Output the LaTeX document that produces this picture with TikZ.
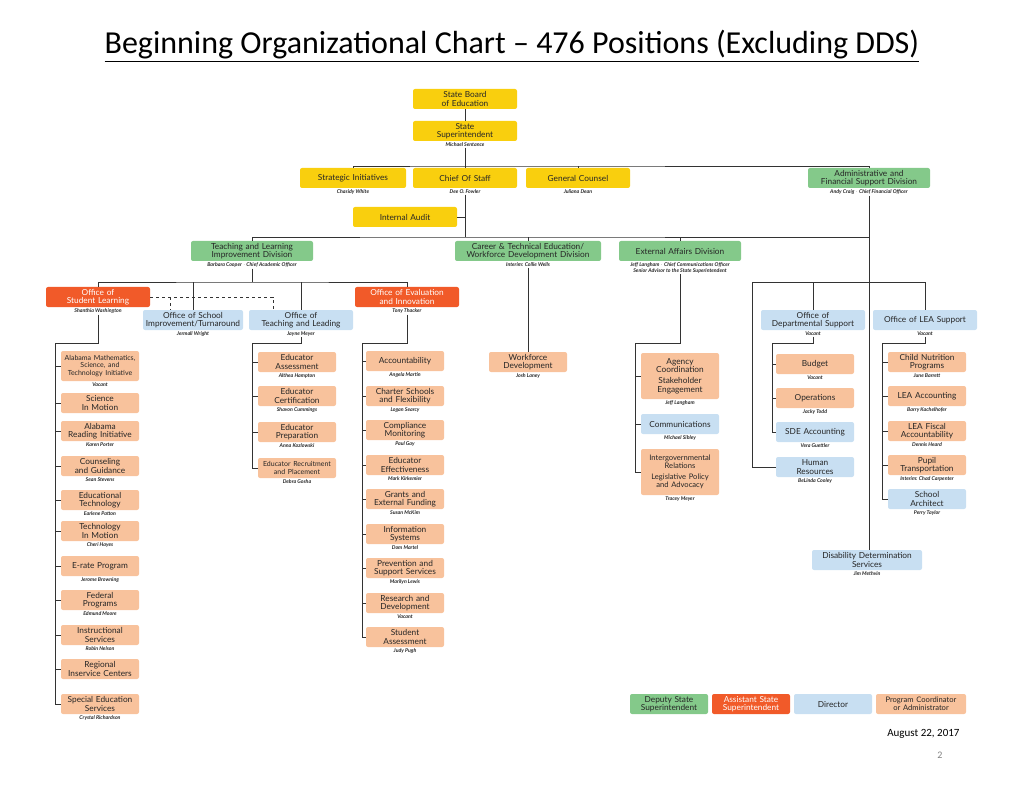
\documentclass[tikz,border=0pt]{standalone}
\usepackage{fontspec}
\setmainfont{Lato}
\newfontfamily\titlefont{Carlito}
\definecolor{cyel}{HTML}{F9CF0E}
\definecolor{cgrn}{HTML}{84C98A}
\definecolor{cred}{HTML}{F15A29}
\definecolor{cblu}{HTML}{C8DFF2}
\definecolor{cpch}{HTML}{F8C29C}
\definecolor{cline}{HTML}{333333}
\tikzset{
 box/.style={rounded corners=2pt,inner sep=0.5pt,align=center,font=\fontsize{8.3}{8.2}\selectfont,text=black!85},
 wbox/.style={box,text=white},
 pers/.style={font=\fontsize{5.2}{5.8}\selectfont\bfseries\itshape,inner sep=0.6pt,anchor=north,align=center,text=black!85},
 ln/.style={draw=cline,line width=0.8pt},
}
\newcommand\ob[9]{%
 \node[#6,minimum width=#4pt,minimum height=#5pt,text width=#4pt-1pt] (#1) at (#2,#3) {#8};
 \node[pers] (#1p) at ([yshift=-1pt]#1.south) {#9};}
\begin{document}
\begin{tikzpicture}[x=1pt,y=-1pt]
\useasboundingbox (0,0) rectangle (1024,791);
\node[font=\titlefont\fontsize{32}{32}\selectfont] (title) at (512,46) {\underline{Beginning Organizational Chart \textendash{} 476 Positions (Excluding DDS)}};
% top
\ob{sb}{465}{99}{104}{20}{box,fill=cyel}{}{State Board\\of Education}{}
\ob{ss}{465}{131}{104}{20}{box,fill=cyel}{}{State\\Superintendent}{Michael Sentance}
\ob{si}{353}{178}{106}{20}{box,fill=cyel}{}{Strategic Initiatives}{Chasidy White}
\ob{cs}{465}{178}{104}{20}{box,fill=cyel}{}{Chief Of Staff}{Dee O. Fowler}
\ob{gc}{578}{178}{104}{20}{box,fill=cyel}{}{General Counsel}{Juliana Dean}
\ob{ad}{869}{178}{122}{20}{box,fill=cgrn}{}{Administrative and\\Financial Support Division}{Andy Craig $\cdot$ Chief Financial Officer}
\ob{ia}{405}{217}{104}{20}{box,fill=cyel}{}{Internal Audit}{}
% divisions
\ob{tl}{252}{251}{122}{20}{box,fill=cgrn}{}{Teaching and Learning\\Improvement Division}{Barbara Cooper $\cdot$ Chief Academic Officer}
\ob{cte}{528}{251}{146}{20}{box,fill=cgrn}{}{Career \& Technical Education/\\Workforce Development Division}{Interim: Collie Wells}
\ob{ea}{680}{251}{122}{20}{box,fill=cgrn}{}{External Affairs Division}{Jeff Langham $\cdot$ Chief Communications Officer\\Senior Advisor to the State Superintendent}
% offices
\ob{sl}{98}{297}{104}{20}{wbox,fill=cred}{}{Office of\\Student Learning}{Shanthia Washington}
\ob{osi}{193}{320}{100}{20}{box,fill=cblu}{}{Office of School\\Improvement/Turnaround}{Jermall Wright}
\ob{otl}{301}{320}{104}{20}{box,fill=cblu}{}{Office of\\Teaching and Leading}{Jayne Meyer}
\ob{oei}{407}{297}{104}{20}{wbox,fill=cred}{}{Office of Evaluation\\and Innovation}{Tony Thacker}
\ob{wd}{528}{362}{78}{20}{box,fill=cpch}{}{Workforce\\Development}{Josh Laney}
\ob{ods}{813}{320}{104}{20}{box,fill=cblu}{}{Office of\\Departmental Support}{Vacant}
\ob{ols}{925}{320}{104}{20}{box,fill=cblu}{}{Office of LEA Support}{Vacant}
\ob{dds}{867}{560}{110}{20}{box,fill=cblu}{}{Disability Determination\\Services}{Jim Methvin}
% student learning children
\ob{a1}{100}{366}{78}{30}{box,fill=cpch}{}{\fontsize{7}{7.6}\selectfont Alabama Mathematics,\\Science, and\\Technology Initiative}{Vacant}
\ob{a2}{100}{403}{78}{20}{box,fill=cpch}{}{Science\\In Motion}{}
\ob{a3}{100}{431}{78}{20}{box,fill=cpch}{}{Alabama\\Reading Initiative}{Karen Porter}
\ob{a4}{100}{466}{78}{20}{box,fill=cpch}{}{Counseling\\and Guidance}{Sean Stevens}
\ob{a5}{100}{500}{78}{20}{box,fill=cpch}{}{Educational\\Technology}{Earlene Patton}
\ob{a6}{100}{531}{78}{20}{box,fill=cpch}{}{Technology\\In Motion}{Cheri Hayes}
\ob{a7}{100}{566}{78}{20}{box,fill=cpch}{}{E-rate Program}{Jerome Browning}
\ob{a8}{100}{600}{78}{20}{box,fill=cpch}{}{Federal\\Programs}{Edmund Moore}
\ob{a9}{100}{635}{78}{20}{box,fill=cpch}{}{Instructional\\Services}{Robin Nelson}
\ob{a10}{100}{669}{78}{20}{box,fill=cpch}{}{Regional\\Inservice Centers}{}
\ob{a11}{100}{704}{78}{20}{box,fill=cpch}{}{Special Education\\Services}{Crystal Richardson}
% teaching and leading children
\ob{b1}{297}{362}{78}{20}{box,fill=cpch}{}{Educator\\Assessment}{Althea Hampton}
\ob{b2}{297}{396}{78}{20}{box,fill=cpch}{}{Educator\\Certification}{Shavon Cummings}
\ob{b3}{297}{432}{78}{20}{box,fill=cpch}{}{Educator\\Preparation}{Anna Kozlowski}
\ob{b4}{297}{468}{78}{20}{box,fill=cpch}{}{\fontsize{7}{7.4}\selectfont Educator Recruitment\\and Placement}{Debra Gosha}
% evaluation children
\ob{c1}{405}{361}{78}{20}{box,fill=cpch}{}{Accountability}{Angela Martin}
\ob{c2}{405}{396}{78}{20}{box,fill=cpch}{}{Charter Schools\\and Flexibility}{Logan Searcy}
\ob{c3}{405}{430}{78}{20}{box,fill=cpch}{}{Compliance\\Monitoring}{Paul Gay}
\ob{c4}{405}{465}{78}{20}{box,fill=cpch}{}{Educator\\Effectiveness}{Mark Kirkemier}
\ob{c5}{405}{499}{78}{20}{box,fill=cpch}{}{Grants and\\External Funding}{Susan McKim}
\ob{c6}{405}{534}{78}{20}{box,fill=cpch}{}{Information\\Systems}{Dom Martel}
\ob{c7}{405}{568}{78}{20}{box,fill=cpch}{}{Prevention and\\Support Services}{Marilyn Lewis}
\ob{c8}{405}{603}{78}{20}{box,fill=cpch}{}{Research and\\Development}{Vacant}
\ob{c9}{405}{637}{78}{20}{box,fill=cpch}{}{Student\\Assessment}{Judy Pugh}
% external children
\ob{e1}{680}{376}{78}{46}{box,fill=cpch}{}{Agency\\Coordination\\[3pt]Stakeholder\\Engagement}{Jeff Langham}
\ob{e2}{680}{424}{78}{20}{box,fill=cblu}{}{Communications}{Michael Sibley}
\ob{e3}{680}{472}{78}{46}{box,fill=cpch}{}{\fontsize{7.6}{8}\selectfont Intergovernmental\\Relations\\[3pt]Legislative Policy\\and Advocacy}{Tracey Meyer}
% departmental
\ob{d1}{815}{364}{78}{20}{box,fill=cpch}{}{Budget}{Vacant}
\ob{d2}{815}{398}{78}{20}{box,fill=cpch}{}{Operations}{Jacky Todd}
\ob{d3}{815}{432}{78}{20}{box,fill=cblu}{}{SDE Accounting}{Vera Guettler}
\ob{d4}{815}{467}{78}{20}{box,fill=cblu}{}{Human\\Resources}{BeLinda Cooley}
% LEA
\ob{l1}{927}{362}{78}{20}{box,fill=cpch}{}{Child Nutrition\\Programs}{June Barrett}
\ob{l2}{927}{396}{78}{20}{box,fill=cpch}{}{LEA Accounting}{Barry Kachelhofer}
\ob{l3}{927}{431}{78}{20}{box,fill=cpch}{}{LEA Fiscal\\Accountability}{Dennis Heard}
\ob{l4}{927}{465}{78}{20}{box,fill=cpch}{}{Pupil\\Transportation}{Interim: Chad Carpenter}
\ob{l5}{927}{499}{78}{20}{box,fill=cblu}{}{School\\Architect}{Perry Taylor}
% legend
\ob{g1}{669}{704}{78}{20}{box,fill=cgrn}{}{Deputy State\\Superintendent}{}
\ob{g2}{751}{704}{78}{20}{wbox,fill=cred}{}{Assistant State\\Superintendent}{}
\ob{g3}{833}{704}{78}{20}{box,fill=cblu}{}{Director}{}
\ob{g4}{921}{704}{90}{20}{box,fill=cpch}{}{\fontsize{7.6}{8}\selectfont Program Coordinator\\or Administrator}{}
\node[font=\titlefont\fontsize{11}{11}\selectfont,anchor=east] (date) at (963,734) {August 22, 2017};
\node[font=\titlefont\fontsize{10}{10}\selectfont,text=gray] (pg) at (940,755) {2};
% connectors
\draw[ln] (sb) -- (ss);
\coordinate (bus1) at (465,166);
\draw[ln] (ssp.south) -- (bus1);
\draw[ln] (si.north) |- (bus1) -| (ad.north);
\draw[ln] (bus1) -- (cs.north);
\draw[ln] (gc.north) -- (gc.north |- bus1);
\coordinate (bus2) at (465,237);
\draw[ln] (csp.south) -- (bus2);
\draw[ln] (ia.east) -- (ia.east -| bus2);
\draw[ln] (tl.north) |- (bus2) -| (adp.south);
\draw[ln] (cte.north) -- (cte.north |- bus2);
\draw[ln] (ea.north) -- (ea.north |- bus2);
\draw[ln] (adp.south) -- (dds.north -| adp.south);
% T&L bus
\coordinate (bus3) at (252,282);
\draw[ln] (tlp.south) -- (bus3);
\draw[ln] (sl.north) |- (bus3) -| (oei.north);
\draw[ln] (osi.north) -- (osi.north |- bus3);
\draw[ln] (otl.north) -- (otl.north |- bus3);
\coordinate (dA) at (170,297); \coordinate (dB) at (273,297);
\draw[ln,dashed,line width=0.6pt] (sl.east) -- (dB) -- (dB |- otl.north);
\draw[ln,dashed,line width=0.6pt] (dA) -- (dA |- osi.north);
% student learning column
\coordinate (sA) at (55,343);
\draw[ln] (slp.south) |- (sA) |- (a11.west);
\foreach \n in {a1,a2,a3,a4,a5,a6,a7,a8,a9,a10} \draw[ln] (\n.west) -- (\n.west -| sA);
% teaching & leading column
\coordinate (tA) at (252,343);
\draw[ln] (otlp.south) |- (tA) |- (b4.west);
\foreach \n in {b1,b2,b3} \draw[ln] (\n.west) -- (\n.west -| tA);
% evaluation column
\coordinate (eA) at (362,343);
\draw[ln] (oeip.south) |- (eA) |- (c9.west);
\foreach \n in {c1,c2,c3,c4,c5,c6,c7,c8} \draw[ln] (\n.west) -- (\n.west -| eA);
% CTE
\draw[ln] (ctep.south) -- (wd.north);
% external
\coordinate (xA) at (635,343);
\draw[ln] (eap.south) |- (xA) |- (e3.west);
\foreach \n in {e1,e2} \draw[ln] (\n.west) -- (\n.west -| xA);
% admin bus
\coordinate (bus4) at (752,282);
\draw[ln] (d4.west) -| (bus4) -| (ols.north);
\draw[ln] (ods.north) -- (ods.north |- bus4);
\coordinate (dA2) at (772,343);
\draw[ln] (odsp.south) |- (dA2) |- (d3.west);
\foreach \n in {d1,d2} \draw[ln] (\n.west) -- (\n.west -| dA2);
\coordinate (lA) at (882,343);
\draw[ln] (olsp.south) |- (lA) |- (l5.west);
\foreach \n in {l1,l2,l3,l4} \draw[ln] (\n.west) -- (\n.west -| lA);
\end{tikzpicture}
\end{document}
